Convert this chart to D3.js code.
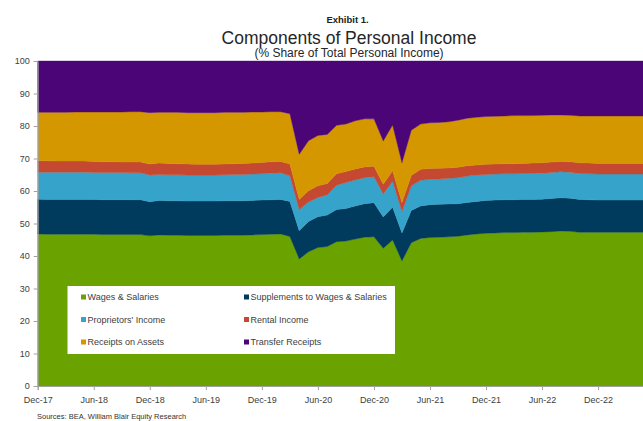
<!DOCTYPE html>
<html>
<head>
<meta charset="utf-8">
<script src="https://cdn.jsdelivr.net/npm/d3@7"></script>
<style>
  html, body { margin: 0; padding: 0; background: #fff; }
  svg { display: block; font-family: "Liberation Sans", Arial, sans-serif; }
</style>
</head>
<body>
<svg id="chart" width="643" height="421"></svg>
<script>
// Monthly shares of total personal income (%), Dec-2017 through May-2023
const startMonth = new Date(2017, 11, 1);
const endMonth = new Date(2023, 5, 1);
const months = d3.timeMonth.range(startMonth, endMonth);

const wages = [
  46.8, 46.7, 46.7, 46.7, 46.7, 46.7, 46.7, 46.6, 46.6, 46.6, 46.6, 46.6,
  46.2, 46.5, 46.4, 46.4, 46.3, 46.3, 46.3, 46.3, 46.4, 46.4, 46.4, 46.5,
  46.6, 46.7, 46.8, 46.0, 39.1, 41.3, 42.6, 42.9, 44.4, 44.6, 45.2, 45.8,
  45.9, 42.4, 44.9, 38.5, 44.1, 45.4, 45.7, 45.8, 45.9, 46.1, 46.5, 46.8,
  47.0, 47.1, 47.2, 47.2, 47.3, 47.3, 47.4, 47.5, 47.7, 47.6, 47.3, 47.3,
  47.3, 47.3, 47.3, 47.3, 47.3, 47.3
];
const supplements = [
  10.7, 10.7, 10.7, 10.7, 10.7, 10.7, 10.7, 10.7, 10.7, 10.7, 10.7, 10.7,
  10.5, 10.6, 10.6, 10.6, 10.6, 10.6, 10.6, 10.6, 10.6, 10.6, 10.6, 10.6,
  10.6, 10.6, 10.6, 10.8, 8.7, 9.3, 9.5, 9.7, 9.9, 10.0, 10.2, 10.3,
  10.5, 9.6, 10.1, 8.6, 9.9, 10.0, 10.1, 10.1, 10.1, 10.0, 10.0, 10.0,
  10.1, 10.1, 10.1, 10.1, 10.1, 10.1, 10.1, 10.2, 10.2, 10.2, 10.1, 10.0,
  9.9, 9.9, 9.9, 9.9, 9.9, 9.9
];
const proprietors = [
  8.3, 8.4, 8.4, 8.4, 8.4, 8.4, 8.3, 8.4, 8.4, 8.4, 8.3, 8.3,
  8.2, 8.0, 8.0, 8.0, 8.0, 8.0, 8.0, 8.0, 8.0, 8.1, 8.1, 8.1,
  8.1, 8.2, 8.2, 7.9, 6.5, 6.0, 5.9, 6.2, 7.5, 8.0, 8.0, 8.0,
  8.0, 7.1, 8.0, 6.6, 7.6, 7.9, 7.8, 7.8, 7.9, 8.0, 8.1, 8.1,
  8.0, 8.0, 8.0, 8.0, 8.0, 8.0, 8.0, 8.0, 8.0, 8.0, 8.0, 8.0,
  8.0, 8.0, 8.0, 8.0, 8.0, 8.0
];
const rental = [
  3.5, 3.5, 3.4, 3.4, 3.4, 3.4, 3.4, 3.3, 3.3, 3.2, 3.3, 3.3,
  3.4, 3.5, 3.5, 3.4, 3.4, 3.3, 3.3, 3.3, 3.3, 3.3, 3.4, 3.4,
  3.5, 3.5, 3.5, 3.6, 3.1, 3.5, 3.6, 3.5, 3.5, 3.4, 3.4, 3.3,
  3.2, 3.0, 3.2, 2.8, 3.2, 3.4, 3.3, 3.3, 3.2, 3.2, 3.2, 3.1,
  3.1, 3.1, 3.1, 3.1, 3.1, 3.2, 3.2, 3.2, 3.2, 3.2, 3.3, 3.3,
  3.3, 3.3, 3.3, 3.3, 3.3, 3.3
];
const assets = [
  14.9, 14.9, 15.0, 15.0, 15.1, 15.1, 15.2, 15.3, 15.3, 15.4, 15.5, 15.5,
  15.8, 15.6, 15.7, 15.8, 15.8, 15.9, 15.9, 15.9, 15.9, 15.8, 15.7, 15.7,
  15.5, 15.4, 15.3, 15.5, 13.9, 15.4, 15.5, 15.1, 14.9, 14.6, 14.8, 14.8,
  14.6, 13.3, 14.1, 12.2, 13.9, 13.9, 14.1, 14.1, 14.2, 14.5, 14.6, 14.7,
  14.7, 14.7, 14.7, 14.8, 14.7, 14.6, 14.6, 14.5, 14.3, 14.3, 14.4, 14.5,
  14.6, 14.6, 14.6, 14.6, 14.6, 14.6
];
const transfers = [
  15.8, 15.8, 15.8, 15.8, 15.7, 15.7, 15.7, 15.7, 15.7, 15.7, 15.6, 15.6,
  15.9, 15.8, 15.8, 15.8, 15.9, 15.9, 15.9, 15.9, 15.8, 15.8, 15.8, 15.7,
  15.7, 15.6, 15.6, 16.2, 28.7, 24.5, 22.9, 22.6, 19.8, 19.4, 18.4, 17.8,
  17.8, 24.6, 19.7, 31.3, 21.3, 19.4, 19.0, 18.9, 18.7, 18.2, 17.6, 17.3,
  17.1, 17.0, 16.9, 16.8, 16.8, 16.8, 16.7, 16.6, 16.6, 16.7, 16.9, 16.9,
  16.9, 16.9, 16.9, 16.9, 16.9, 16.9
];

const seriesNames = [
  "Wages & Salaries",
  "Supplements to Wages & Salaries",
  "Proprietors' Income",
  "Rental Income",
  "Receipts on Assets",
  "Transfer Receipts"
];
const seriesValues = [wages, supplements, proprietors, rental, assets, transfers];
const seriesColors = ["#6aa300", "#003a5c", "#36a3cb", "#c54831", "#d49700", "#4b0577"];

const xTickLabels = ["Dec-17", "Jun-18", "Dec-18", "Jun-19", "Dec-19", "Jun-20",
                     "Dec-20", "Jun-21", "Dec-21", "Jun-22", "Dec-22"];
const yTicks = [0, 10, 20, 30, 40, 50, 60, 70, 80, 90, 100];

// Rows for the stack layout
const fmt = d3.timeFormat("%b-%y");
const rows = months.map((m, i) => {
  const r = { month: fmt(m) };
  seriesNames.forEach((name, k) => { r[name] = seriesValues[k][i]; });
  return r;
});

const svg = d3.select("#chart");
const plot = { left: 37.7, top: 61, bottom: 386, step: 9.34 };

const x = d3.scalePoint()
  .domain(rows.map(r => r.month))
  .range([plot.left, plot.left + plot.step * (rows.length - 1)]);
const y = d3.scaleLinear().domain([0, 100]).range([plot.bottom, plot.top]);

const stacked = d3.stack().keys(seriesNames)(rows);

const area = d3.area()
  .x(d => x(d.data.month))
  .y0(d => y(d[0]))
  .y1(d => y(d[1]));

svg.append("g")
  .selectAll("path")
  .data(stacked)
  .join("path")
  .attr("d", area)
  .attr("fill", (d, i) => seriesColors[i])
  .attr("stroke", (d, i) => seriesColors[i])
  .attr("stroke-width", 0.4);

// Axes
const axisColor = "#a0a0a0";
const labelColor = "#404040";

const yAxis = svg.append("g")
  .attr("transform", `translate(${plot.left},0)`)
  .call(d3.axisLeft(y).tickValues(yTicks).tickSize(4).tickPadding(4));
yAxis.select(".domain").attr("stroke", axisColor);
yAxis.selectAll(".tick line").attr("stroke", axisColor);
yAxis.selectAll(".tick text")
  .attr("fill", labelColor)
  .style("font-size", "9px")
  .style("font-family", "'Liberation Sans', Arial, sans-serif");

const xAxis = svg.append("g")
  .attr("transform", `translate(0,${plot.bottom})`)
  .call(d3.axisBottom(x).tickValues(xTickLabels).tickSizeOuter(0).tickSize(4).tickPadding(7));
xAxis.select(".domain").attr("stroke", axisColor);
xAxis.selectAll(".tick line").attr("stroke", axisColor);
xAxis.selectAll(".tick text")
  .attr("fill", labelColor)
  .style("font-size", "9px")
  .style("font-family", "'Liberation Sans', Arial, sans-serif");

// Titles
svg.append("text")
  .attr("x", 347.5).attr("y", 23)
  .attr("text-anchor", "middle")
  .attr("fill", "#222")
  .style("font-size", "9.5px")
  .style("font-weight", "bold")
  .text("Exhibit 1.");

svg.append("text")
  .attr("x", 349).attr("y", 43.5)
  .attr("text-anchor", "middle")
  .attr("fill", "#262626")
  .style("font-size", "17.5px")
  .text("Components of Personal Income");

svg.append("text")
  .attr("x", 349).attr("y", 57)
  .attr("text-anchor", "middle")
  .attr("fill", "#262626")
  .style("font-size", "12px")
  .text("(% Share of Total Personal Income)");

svg.append("text")
  .attr("x", 37).attr("y", 419)
  .attr("fill", "#333")
  .style("font-size", "7.5px")
  .text("Sources: BEA, William Blair Equity Research");

// Legend
const legend = svg.append("g");
legend.append("rect")
  .attr("x", 67.5).attr("y", 286)
  .attr("width", 327.5).attr("height", 68)
  .attr("fill", "#fff");

const legendCols = [81, 244];
const legendRows = [297, 319.5, 342];
seriesNames.forEach((name, i) => {
  const cx = legendCols[i % 2];
  const cy = legendRows[Math.floor(i / 2)];
  legend.append("rect")
    .attr("x", cx).attr("y", cy - 2.5)
    .attr("width", 5).attr("height", 5)
    .attr("fill", seriesColors[i]);
  legend.append("text")
    .attr("x", cx + 6.5).attr("y", cy + 3.2)
    .attr("fill", labelColor)
    .style("font-size", "9px")
    .text(name);
});
</script>
</body>
</html>
